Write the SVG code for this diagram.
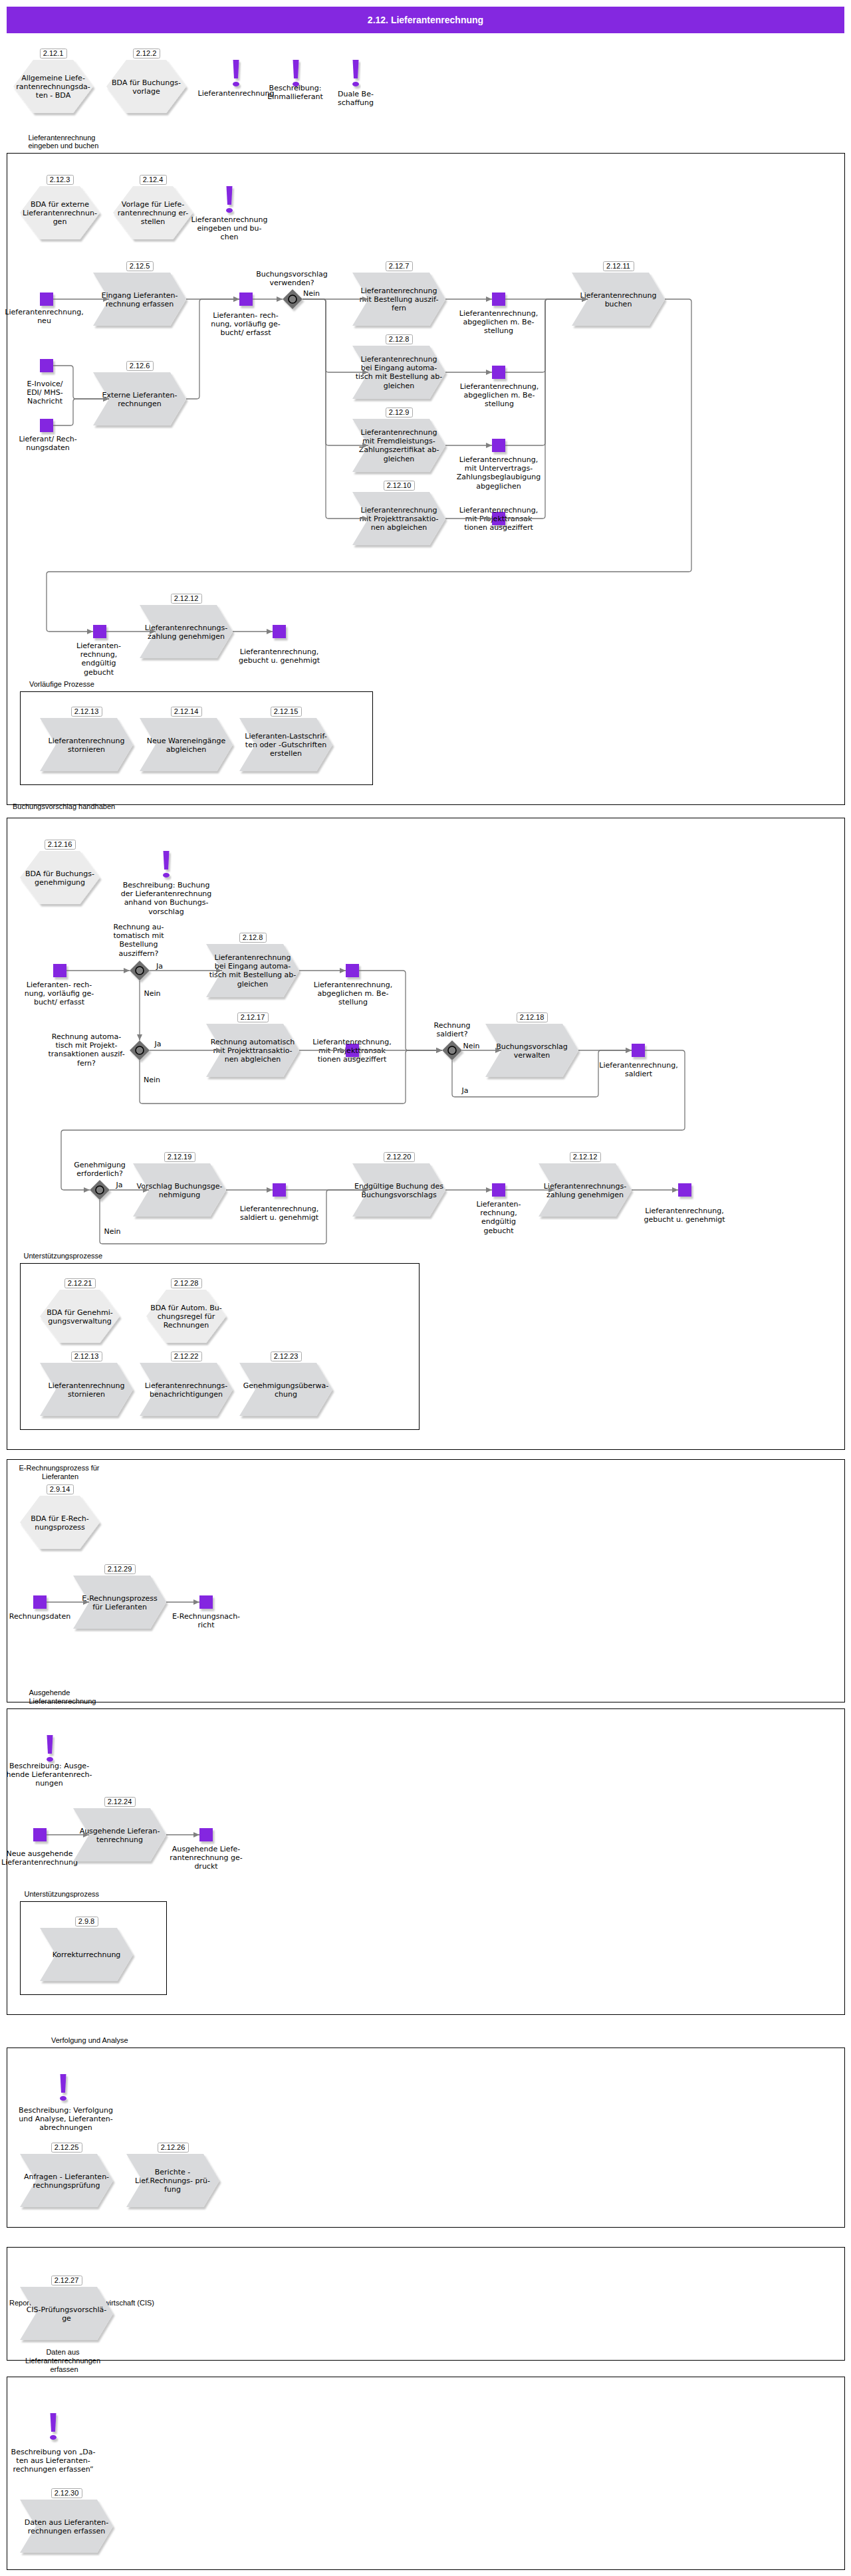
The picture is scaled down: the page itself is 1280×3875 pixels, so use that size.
<svg xmlns="http://www.w3.org/2000/svg" xmlns:xlink="http://www.w3.org/1999/xlink" width="1280" height="3875" viewBox="0 0 1280 3875">
<style>
text{font-family:"DejaVu Sans",sans-serif;font-size:11px;text-anchor:middle;fill:#000}
.l{font-family:"Liberation Sans",Arial,sans-serif;font-size:11px}
.ls{text-anchor:start}
.b{font-family:"Liberation Sans",Arial,sans-serif;font-size:11px}
.bx{fill:#fff;stroke:#aaa;stroke-width:1}
.sec{fill:none;stroke:#000;stroke-width:1;shape-rendering:crispEdges}
.sq{fill:#8428e0;filter:url(#sh)}
.conn path{fill:none;stroke:#787878;stroke-width:1.3;marker-end:url(#ah)}
</style>
<defs>
<filter id="sh" x="-20%" y="-20%" width="150%" height="150%"><feDropShadow dx="2.5" dy="3.5" stdDeviation="1" flood-color="#000" flood-opacity="0.22"/></filter>
<marker id="ah" markerUnits="userSpaceOnUse" markerWidth="10" markerHeight="8" refX="9" refY="4" orient="auto"><path d="M0 0L9 4L0 8Z" fill="#808080"/></marker>
<polygon id="chev" points="0,0 116,0 140,40 116,80 0,80 24,40" fill="#d9dadc" filter="url(#sh)"/>
<polygon id="hex" points="0,40 30,0 90,0 120,40 90,80 30,80" fill="#ececec" filter="url(#sh)"/>
<g id="excl" filter="url(#sh)" fill="#8428e0"><path d="M-4.5 0H4.5L3 28H-3Z"/><ellipse cx="0" cy="36.5" rx="5" ry="3.5"/></g>
<g id="dia" filter="url(#sh)"><polygon points="0,-15 15,0 0,15 -15,0" fill="#6e6e6e"/><circle r="6" fill="#808080" stroke="#000" stroke-width="1.6"/></g>
</defs>
<rect width="1280" height="3875" fill="#fff"/>
<g id="header"><rect x="10" y="10" width="1260" height="40" fill="#8428e0"/><text x="640" y="35" style="font-family:'Liberation Sans',Arial,sans-serif;font-weight:bold;font-size:14px;fill:#fff">2.12. Lieferantenrechnung</text></g>

<g id="sections">
<rect class="sec" x="10.5" y="230.5" width="1260" height="980"/>
<rect class="sec" x="30.5" y="1040.5" width="530" height="140"/>
<rect class="sec" x="10.5" y="1230.5" width="1260" height="950"/>
<rect class="sec" x="30.5" y="1900.5" width="600" height="250"/>
<rect class="sec" x="10.5" y="2195.5" width="1260" height="365"/>
<rect class="sec" x="10.5" y="2570.5" width="1260" height="460"/>
<rect class="sec" x="30.5" y="2860.5" width="220" height="140"/>
<rect class="sec" x="10.5" y="3080.5" width="1260" height="270"/>
<rect class="sec" x="10.5" y="3380.5" width="1260" height="170"/>
<rect class="sec" x="10.5" y="3575.5" width="1260" height="290"/>
<text class="l ls" x="42.5" y="211">Lieferantenrechnung</text><text class="l ls" x="42.5" y="223">eingeben und buchen</text>
<text class="l ls" x="44" y="1033">Vorläufige Prozesse</text>
<text class="l ls" x="19" y="1217">Buchungsvorschlag handhaben</text>
<text class="l ls" x="35.5" y="1893">Unterstützungsprozesse</text>
<text class="l" x="89" y="2212">E-Rechnungsprozess für</text><text class="l" x="90.5" y="2225">Lieferanten</text>
<text class="l ls" x="43.5" y="2550">Ausgehende</text><text class="l ls" x="43.5" y="2563">Lieferantenrechnung</text>
<text class="l ls" x="36.5" y="2853">Unterstützungsprozess</text>
<text class="l ls" x="77" y="3073">Verfolgung und Analyse</text>
<text class="l ls" x="14" y="3468">Report</text><text class="l" x="232" y="3468" style="text-anchor:end">wirtschaft (CIS)</text>
<text class="l" x="94.5" y="3542">Daten aus</text><text class="l" x="94.5" y="3555">Lieferantenrechnungen</text><text class="l" x="96.5" y="3568">erfassen</text>
</g>

<g id="nodes">
<g id="n2-12-1"><use href="#hex" x="20" y="90"/><rect class="bx" x="60.5" y="73.5" width="40" height="14" rx="2"/><text class="b" x="80" y="84">2.12.1</text><text x="80" y="121">Allgemeine Liefe-</text><text x="80" y="134">rantenrechnungsda-</text><text x="80" y="147">ten - BDA</text></g>
<g id="n2-12-2"><use href="#hex" x="160" y="90"/><rect class="bx" x="200.5" y="73.5" width="40" height="14" rx="2"/><text class="b" x="220" y="84">2.12.2</text><text x="220" y="128">BDA für Buchungs-</text><text x="220" y="141">vorlage</text></g>
<g id="d-1"><use href="#excl" x="355" y="90"/><text x="355" y="144">Lieferantenrechnung</text></g>
<g id="d-2"><use href="#excl" x="445" y="90"/><text x="444" y="136">Beschreibung:</text><text x="444" y="149">Einmallieferant</text></g>
<g id="d-3"><use href="#excl" x="535" y="90"/><text x="535" y="145">Duale Be-</text><text x="535" y="158">schaffung</text></g>

<g id="n2-12-3"><use href="#hex" x="30" y="280"/><rect class="bx" x="70.5" y="263.5" width="40" height="14" rx="2"/><text class="b" x="90" y="274">2.12.3</text><text x="90" y="311">BDA für externe</text><text x="90" y="324">Lieferantenrechnun-</text><text x="90" y="337">gen</text></g>
<g id="n2-12-4"><use href="#hex" x="170" y="280"/><rect class="bx" x="210.5" y="263.5" width="40" height="14" rx="2"/><text class="b" x="230" y="274">2.12.4</text><text x="230" y="311">Vorlage für Liefe-</text><text x="230" y="324">rantenrechnung er-</text><text x="230" y="337">stellen</text></g>
<g id="d-4"><use href="#excl" x="345" y="280"/><text x="345" y="334">Lieferantenrechnung</text><text x="345" y="347">eingeben und bu-</text><text x="345" y="360">chen</text></g>

<g id="e-neu"><rect class="sq" x="60" y="440" width="20" height="20"/><text x="66.5" y="473">Lieferantenrechnung,</text><text x="66.5" y="486">neu</text></g>
<g id="n2-12-5"><use href="#chev" x="140" y="410"/><rect class="bx" x="190.5" y="393.5" width="40" height="14" rx="2"/><text class="b" x="210" y="404">2.12.5</text><text x="210" y="448">Eingang Lieferanten-</text><text x="210" y="461">rechnung erfassen</text></g>
<g id="e-einv"><rect class="sq" x="60" y="540" width="20" height="20"/><text x="67.5" y="581">E-Invoice/</text><text x="67.5" y="594">EDI/ MHS-</text><text x="67.5" y="607">Nachricht</text></g>
<g id="e-lief"><rect class="sq" x="60" y="630" width="20" height="20"/><text x="72" y="664">Lieferant/ Rech-</text><text x="72" y="677">nungsdaten</text></g>
<g id="n2-12-6"><use href="#chev" x="140" y="560"/><rect class="bx" x="190.5" y="543.5" width="40" height="14" rx="2"/><text class="b" x="210" y="554">2.12.6</text><text x="210" y="598">Externe Lieferanten-</text><text x="210" y="611">rechnungen</text></g>
<g id="e-vorl"><rect class="sq" x="360" y="440" width="20" height="20"/><text x="369.5" y="478">Lieferanten- rech-</text><text x="369.5" y="491">nung, vorläufig ge-</text><text x="369.5" y="504">bucht/ erfasst</text></g>
<g id="g-1"><use href="#dia" x="440" y="450"/><text x="439" y="416">Buchungsvorschlag</text><text x="439" y="429">verwenden?</text><text x="468.5" y="445">Nein</text></g>
<g id="n2-12-7"><use href="#chev" x="530" y="410"/><rect class="bx" x="580.5" y="393.5" width="40" height="14" rx="2"/><text class="b" x="600" y="404">2.12.7</text><text x="600" y="441">Lieferantenrechnung</text><text x="600" y="454">mit Bestellung auszif-</text><text x="600" y="467">fern</text></g>
<g id="n2-12-8"><use href="#chev" x="530" y="520"/><rect class="bx" x="580.5" y="503.5" width="40" height="14" rx="2"/><text class="b" x="600" y="514">2.12.8</text><text x="600" y="544">Lieferantenrechnung</text><text x="600" y="557">bei Eingang automa-</text><text x="600" y="570">tisch mit Bestellung ab-</text><text x="600" y="584">gleichen</text></g>
<g id="n2-12-9"><use href="#chev" x="530" y="630"/><rect class="bx" x="580.5" y="613.5" width="40" height="14" rx="2"/><text class="b" x="600" y="624">2.12.9</text><text x="600" y="654">Lieferantenrechnung</text><text x="600" y="667">mit Fremdleistungs-</text><text x="600" y="680">Zahlungszertifikat ab-</text><text x="600" y="694">gleichen</text></g>
<g id="n2-12-10"><use href="#chev" x="530" y="740"/><rect class="bx" x="577.5" y="723.5" width="46" height="14" rx="2"/><text class="b" x="600" y="734">2.12.10</text><text x="600" y="771">Lieferantenrechnung</text><text x="600" y="784">mit Projekttransaktio-</text><text x="600" y="797">nen abgleichen</text></g>
<g id="e-abg1"><rect class="sq" x="740" y="440" width="20" height="20"/><text x="750" y="475">Lieferantenrechnung,</text><text x="750" y="488">abgeglichen m. Be-</text><text x="750" y="501">stellung</text></g>
<g id="e-abg2"><rect class="sq" x="740" y="550" width="20" height="20"/><text x="751" y="585">Lieferantenrechnung,</text><text x="751" y="598">abgeglichen m. Be-</text><text x="751" y="611">stellung</text></g>
<g id="e-abg3"><rect class="sq" x="740" y="660" width="20" height="20"/><text x="750" y="695">Lieferantenrechnung,</text><text x="750" y="708">mit Untervertrags-</text><text x="750" y="721">Zahlungsbeglaubigung</text><text x="750" y="735">abgeglichen</text></g>
<g id="e-abg4"><rect class="sq" x="740" y="770" width="20" height="20"/><text x="750" y="771">Lieferantenrechnung,</text><text x="750" y="784">mit Projekttransak</text><text x="750" y="797">tionen ausgeziffert</text></g>
<g id="n2-12-11"><use href="#chev" x="860" y="410"/><rect class="bx" x="907.5" y="393.5" width="46" height="14" rx="2"/><text class="b" x="930" y="404">2.12.11</text><text x="930" y="448">Lieferantenrechnung</text><text x="930" y="461">buchen</text></g>
<g id="e-endg"><rect class="sq" x="140" y="940" width="20" height="20"/><text x="148.5" y="975">Lieferanten-</text><text x="148.5" y="988">rechnung,</text><text x="148.5" y="1001">endgültig</text><text x="148.5" y="1015">gebucht</text></g>
<g id="n2-12-12"><use href="#chev" x="210" y="910"/><rect class="bx" x="257.5" y="893.5" width="46" height="14" rx="2"/><text class="b" x="280" y="904">2.12.12</text><text x="280" y="948">Lieferantenrechnungs-</text><text x="280" y="961">zahlung genehmigen</text></g>
<g id="e-geb"><rect class="sq" x="410" y="940" width="20" height="20"/><text x="420" y="984">Lieferantenrechnung,</text><text x="420" y="997">gebucht u. genehmigt</text></g>
<g id="n2-12-13"><use href="#chev" x="60" y="1080"/><rect class="bx" x="107.5" y="1063.5" width="46" height="14" rx="2"/><text class="b" x="130" y="1074">2.12.13</text><text x="130" y="1118">Lieferantenrechnung</text><text x="130" y="1131">stornieren</text></g>
<g id="n2-12-14"><use href="#chev" x="210" y="1080"/><rect class="bx" x="257.5" y="1063.5" width="46" height="14" rx="2"/><text class="b" x="280" y="1074">2.12.14</text><text x="280" y="1118">Neue Wareneingänge</text><text x="280" y="1131">abgleichen</text></g>
<g id="n2-12-15"><use href="#chev" x="360" y="1080"/><rect class="bx" x="407.5" y="1063.5" width="46" height="14" rx="2"/><text class="b" x="430" y="1074">2.12.15</text><text x="430" y="1111">Lieferanten-Lastschrif-</text><text x="430" y="1124">ten oder -Gutschriften</text><text x="430" y="1137">erstellen</text></g>

<g id="n2-12-16"><use href="#hex" x="30" y="1280"/><rect class="bx" x="67.5" y="1263.5" width="46" height="14" rx="2"/><text class="b" x="90" y="1274">2.12.16</text><text x="90" y="1318">BDA für Buchungs-</text><text x="90" y="1331">genehmigung</text></g>
<g id="d-5"><use href="#excl" x="250" y="1280"/><text x="250" y="1335">Beschreibung: Buchung</text><text x="250" y="1348">der Lieferantenrechnung</text><text x="250" y="1361">anhand von Buchungs-</text><text x="250" y="1375">vorschlag</text></g>
<g id="e-vorl2"><rect class="sq" x="80" y="1450" width="20" height="20"/><text x="89" y="1485">Lieferanten- rech-</text><text x="89" y="1498">nung, vorläufig ge-</text><text x="89" y="1511">bucht/ erfasst</text></g>
<g id="g-2"><use href="#dia" x="210" y="1460"/><text x="208.5" y="1398">Rechnung au-</text><text x="208.5" y="1411">tomatisch mit</text><text x="208.5" y="1424">Bestellung</text><text x="208.5" y="1438">ausziffern?</text><text x="240" y="1457">Ja</text><text x="229" y="1498">Nein</text></g>
<g id="g-3"><use href="#dia" x="210" y="1580"/><text x="130" y="1563">Rechnung automa-</text><text x="130" y="1576">tisch mit Projekt-</text><text x="130" y="1589">transaktionen auszif-</text><text x="130" y="1603">fern?</text><text x="237.5" y="1574">Ja</text><text x="228.5" y="1628">Nein</text></g>
<g id="n2-12-8b"><use href="#chev" x="310" y="1420"/><rect class="bx" x="360.5" y="1403.5" width="40" height="14" rx="2"/><text class="b" x="380" y="1414">2.12.8</text><text x="380" y="1444">Lieferantenrechnung</text><text x="380" y="1457">bei Eingang automa-</text><text x="380" y="1470">tisch mit Bestellung ab-</text><text x="380" y="1484">gleichen</text></g>
<g id="n2-12-17"><use href="#chev" x="310" y="1540"/><rect class="bx" x="357.5" y="1523.5" width="46" height="14" rx="2"/><text class="b" x="380" y="1534">2.12.17</text><text x="380" y="1571">Rechnung automatisch</text><text x="380" y="1584">mit Projekttransaktio-</text><text x="380" y="1597">nen abgleichen</text></g>
<g id="e-abg5"><rect class="sq" x="520" y="1450" width="20" height="20"/><text x="531" y="1485">Lieferantenrechnung,</text><text x="531" y="1498">abgeglichen m. Be-</text><text x="531" y="1511">stellung</text></g>
<g id="e-abg6"><rect class="sq" x="520" y="1570" width="20" height="20"/><text x="529.5" y="1571">Lieferantenrechnung,</text><text x="529.5" y="1584">mit Projekttransak</text><text x="529.5" y="1597">tionen ausgeziffert</text></g>
<g id="g-4"><use href="#dia" x="680" y="1580"/><text x="680" y="1546">Rechnung</text><text x="680" y="1559">saldiert?</text><text x="709" y="1577">Nein</text><text x="699.5" y="1644">Ja</text></g>
<g id="n2-12-18"><use href="#chev" x="730" y="1540"/><rect class="bx" x="777.5" y="1523.5" width="46" height="14" rx="2"/><text class="b" x="800" y="1534">2.12.18</text><text x="800" y="1578">Buchungsvorschlag</text><text x="800" y="1591">verwalten</text></g>
<g id="e-sald"><rect class="sq" x="950" y="1570" width="20" height="20"/><text x="960.5" y="1606">Lieferantenrechnung,</text><text x="960.5" y="1619">saldiert</text></g>
<g id="g-5"><use href="#dia" x="150" y="1790"/><text x="150" y="1756">Genehmigung</text><text x="150" y="1769">erforderlich?</text><text x="179.5" y="1786">Ja</text><text x="169" y="1856">Nein</text></g>
<g id="n2-12-19"><use href="#chev" x="200" y="1750"/><rect class="bx" x="247.5" y="1733.5" width="46" height="14" rx="2"/><text class="b" x="270" y="1744">2.12.19</text><text x="270" y="1788">Vorschlag Buchungsge-</text><text x="270" y="1801">nehmigung</text></g>
<g id="e-sg"><rect class="sq" x="410" y="1780" width="20" height="20"/><text x="420" y="1822">Lieferantenrechnung,</text><text x="420" y="1835">saldiert u. genehmigt</text></g>
<g id="n2-12-20"><use href="#chev" x="530" y="1750"/><rect class="bx" x="577.5" y="1733.5" width="46" height="14" rx="2"/><text class="b" x="600" y="1744">2.12.20</text><text x="600" y="1788">Endgültige Buchung des</text><text x="600" y="1801">Buchungsvorschlags</text></g>
<g id="e-endg2"><rect class="sq" x="740" y="1780" width="20" height="20"/><text x="750" y="1815">Lieferanten-</text><text x="750" y="1828">rechnung,</text><text x="750" y="1841">endgültig</text><text x="750" y="1855">gebucht</text></g>
<g id="n2-12-12b"><use href="#chev" x="810" y="1750"/><rect class="bx" x="857.5" y="1733.5" width="46" height="14" rx="2"/><text class="b" x="880" y="1744">2.12.12</text><text x="880" y="1788">Lieferantenrechnungs-</text><text x="880" y="1801">zahlung genehmigen</text></g>
<g id="e-geb2"><rect class="sq" x="1020" y="1780" width="20" height="20"/><text x="1029.5" y="1825">Lieferantenrechnung,</text><text x="1029.5" y="1838">gebucht u. genehmigt</text></g>
<g id="n2-12-21"><use href="#hex" x="60" y="1940"/><rect class="bx" x="97.5" y="1923.5" width="46" height="14" rx="2"/><text class="b" x="120" y="1934">2.12.21</text><text x="120" y="1978">BDA für Genehmi-</text><text x="120" y="1991">gungsverwaltung</text></g>
<g id="n2-12-28"><use href="#hex" x="220" y="1940"/><rect class="bx" x="257.5" y="1923.5" width="46" height="14" rx="2"/><text class="b" x="280" y="1934">2.12.28</text><text x="280" y="1971">BDA für Autom. Bu-</text><text x="280" y="1984">chungsregel für</text><text x="280" y="1997">Rechnungen</text></g>
<g id="n2-12-13b"><use href="#chev" x="60" y="2050"/><rect class="bx" x="107.5" y="2033.5" width="46" height="14" rx="2"/><text class="b" x="130" y="2044">2.12.13</text><text x="130" y="2088">Lieferantenrechnung</text><text x="130" y="2101">stornieren</text></g>
<g id="n2-12-22"><use href="#chev" x="210" y="2050"/><rect class="bx" x="257.5" y="2033.5" width="46" height="14" rx="2"/><text class="b" x="280" y="2044">2.12.22</text><text x="280" y="2088">Lieferantenrechnungs-</text><text x="280" y="2101">benachrichtigungen</text></g>
<g id="n2-12-23"><use href="#chev" x="360" y="2050"/><rect class="bx" x="407.5" y="2033.5" width="46" height="14" rx="2"/><text class="b" x="430" y="2044">2.12.23</text><text x="430" y="2088">Genehmigungsüberwa-</text><text x="430" y="2101">chung</text></g>

<g id="n2-9-14"><use href="#hex" x="30" y="2250"/><rect class="bx" x="70.5" y="2233.5" width="40" height="14" rx="2"/><text class="b" x="90" y="2244">2.9.14</text><text x="90" y="2288">BDA für E-Rech-</text><text x="90" y="2301">nungsprozess</text></g>
<g id="e-rd"><rect class="sq" x="50" y="2400" width="20" height="20"/><text x="60" y="2435">Rechnungsdaten</text></g>
<g id="n2-12-29"><use href="#chev" x="110" y="2370"/><rect class="bx" x="157.5" y="2353.5" width="46" height="14" rx="2"/><text class="b" x="180" y="2364">2.12.29</text><text x="180" y="2408">E-Rechnungsprozess</text><text x="180" y="2421">für Lieferanten</text></g>
<g id="e-ern"><rect class="sq" x="300" y="2400" width="20" height="20"/><text x="310" y="2435">E-Rechnungsnach-</text><text x="310" y="2448">richt</text></g>

<g id="d-6"><use href="#excl" x="75" y="2610"/><text x="74" y="2660">Beschreibung: Ausge-</text><text x="74" y="2673">hende Lieferantenrech-</text><text x="74" y="2686">nungen</text></g>
<g id="e-neu2"><rect class="sq" x="50" y="2750" width="20" height="20"/><text x="59.5" y="2792">Neue ausgehende</text><text x="59.5" y="2805">Lieferantenrechnung</text></g>
<g id="n2-12-24"><use href="#chev" x="110" y="2720"/><rect class="bx" x="157.5" y="2703.5" width="46" height="14" rx="2"/><text class="b" x="180" y="2714">2.12.24</text><text x="180" y="2758">Ausgehende Lieferan-</text><text x="180" y="2771">tenrechnung</text></g>
<g id="e-agd"><rect class="sq" x="300" y="2750" width="20" height="20"/><text x="310" y="2785">Ausgehende Liefe-</text><text x="310" y="2798">rantenrechnung ge-</text><text x="310" y="2811">druckt</text></g>
<g id="n2-9-8"><use href="#chev" x="60" y="2900"/><rect class="bx" x="113.5" y="2883.5" width="34" height="14" rx="2"/><text class="b" x="130" y="2894">2.9.8</text><text x="130" y="2944">Korrekturrechnung</text></g>

<g id="d-7"><use href="#excl" x="95" y="3120"/><text x="99" y="3178">Beschreibung: Verfolgung</text><text x="99" y="3191">und Analyse, Lieferanten-</text><text x="99" y="3204">abrechnungen</text></g>
<g id="n2-12-25"><use href="#chev" x="30" y="3240"/><rect class="bx" x="77.5" y="3223.5" width="46" height="14" rx="2"/><text class="b" x="100" y="3234">2.12.25</text><text x="100" y="3278">Anfragen - Lieferanten-</text><text x="100" y="3291">rechnungsprüfung</text></g>
<g id="n2-12-26"><use href="#chev" x="190" y="3240"/><rect class="bx" x="237.5" y="3223.5" width="46" height="14" rx="2"/><text class="b" x="260" y="3234">2.12.26</text><text x="259.5" y="3271">Berichte -</text><text x="259.5" y="3284">Lief.Rechnungs- prü-</text><text x="259.5" y="3297">fung</text></g>
<g id="n2-12-27"><use href="#chev" x="30" y="3440"/><rect class="bx" x="77.5" y="3423.5" width="46" height="14" rx="2"/><text class="b" x="100" y="3434">2.12.27</text><text x="100" y="3478">CIS-Prüfungsvorschlä-</text><text x="100" y="3491">ge</text></g>
<g id="d-8"><use href="#excl" x="80" y="3630"/><text x="80" y="3692">Beschreibung von „Da-</text><text x="80" y="3705">ten aus Lieferanten-</text><text x="80" y="3718">rechnungen erfassen“</text></g>
<g id="n2-12-30"><use href="#chev" x="30" y="3760"/><rect class="bx" x="77.5" y="3743.5" width="46" height="14" rx="2"/><text class="b" x="100" y="3754">2.12.30</text><text x="100" y="3798">Daten aus Lieferanten-</text><text x="100" y="3811">rechnungen erfassen</text></g>
</g>

<g id="connectors" class="conn">
<path d="M80 450H164"/><path d="M280 450H360"/><path d="M380 450H425"/><path d="M455 450H554"/>
<path d="M455 450H486Q490 450 490 454V556Q490 560 494 560H554"/>
<path d="M455 450H486Q490 450 490 454V666Q490 670 494 670H554"/>
<path d="M455 450H486Q490 450 490 454V776Q490 780 494 780H554"/>
<path d="M670 450H740"/><path d="M670 560H740"/><path d="M670 670H740"/><path d="M670 780H740"/>
<path d="M760 450H884"/>
<path d="M760 560H816Q820 560 820 556V454Q820 450 824 450H884"/>
<path d="M760 670H816Q820 670 820 666V454Q820 450 824 450H884"/>
<path d="M760 780H816Q820 780 820 776V454Q820 450 824 450H884"/>
<path d="M1000 450H1036Q1040 450 1040 454V856Q1040 860 1036 860H74Q70 860 70 864V946Q70 950 74 950H140"/>
<path d="M160 950H234"/><path d="M350 950H410"/>
<path d="M80 550H106Q110 550 110 554V596Q110 600 114 600H164"/>
<path d="M80 640H106Q110 640 110 636V604Q110 600 114 600H164"/>
<path d="M280 600H296Q300 600 300 596V454Q300 450 304 450H360"/>
<path d="M100 1460H195"/><path d="M225 1460H334"/><path d="M450 1460H520"/>
<path d="M540 1460H606Q610 1460 610 1464V1576Q610 1580 614 1580H665"/>
<path d="M210 1475V1565"/><path d="M225 1580H334"/><path d="M450 1580H520"/><path d="M540 1580H665"/>
<path d="M210 1595V1656Q210 1660 214 1660H606Q610 1660 610 1656V1584Q610 1580 614 1580H665"/>
<path d="M695 1580H754"/><path d="M870 1580H950"/>
<path d="M680 1595V1646Q680 1650 684 1650H896Q900 1650 900 1646V1584Q900 1580 904 1580H950"/>
<path d="M970 1580H1026Q1030 1580 1030 1584V1696Q1030 1700 1026 1700H96Q92 1700 92 1704V1786Q92 1790 96 1790H135"/>
<path d="M165 1790H224"/><path d="M340 1790H410"/><path d="M430 1790H554"/>
<path d="M150 1805V1867Q150 1871 154 1871H487Q491 1871 491 1867V1794Q491 1790 495 1790H554"/>
<path d="M670 1790H740"/><path d="M760 1790H834"/><path d="M950 1790H1020"/>
<path d="M70 2410H134"/><path d="M250 2410H300"/>
<path d="M70 2760H134"/><path d="M250 2760H300"/>
</g>
</svg>
